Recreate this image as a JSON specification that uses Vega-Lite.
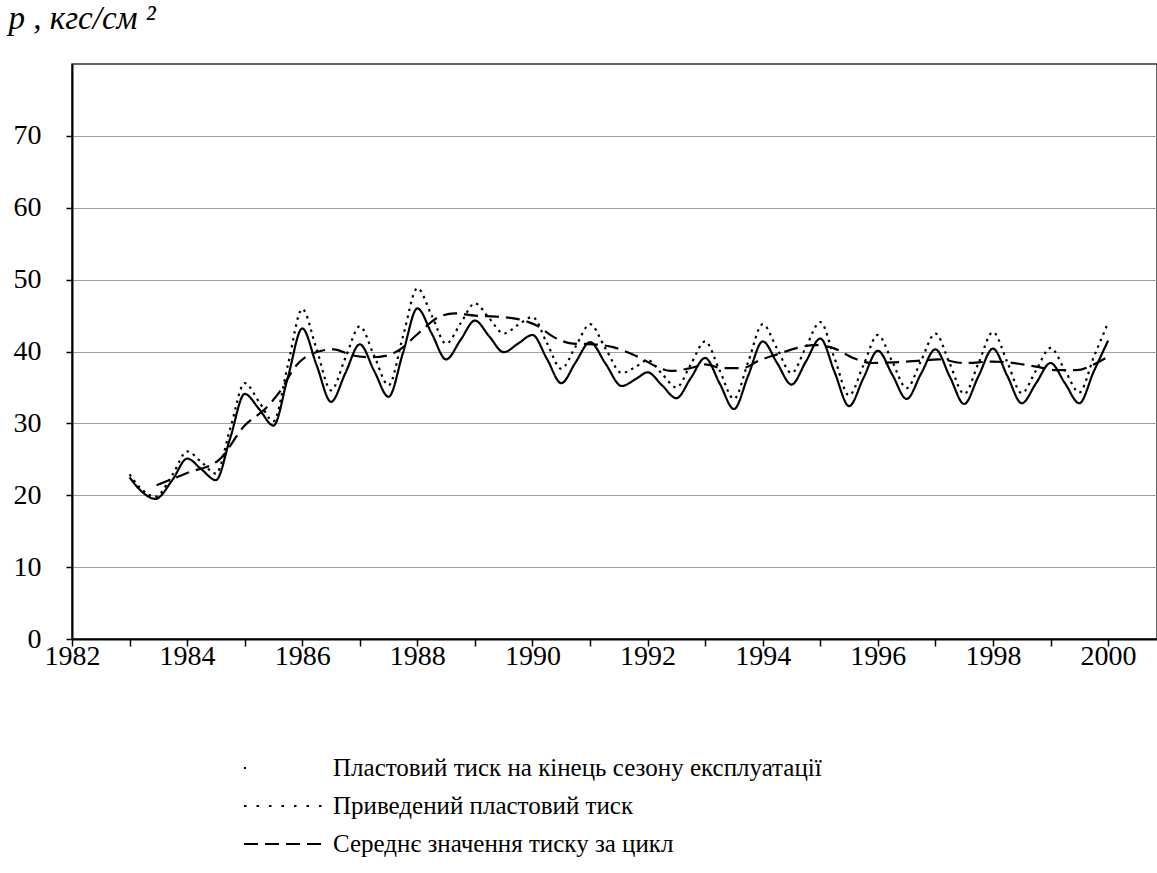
{
  "$schema": "https://vega.github.io/schema/vega-lite/v6.json",
  "width": 1085,
  "height": 575,
  "autosize": "none",
  "padding": {"left": 72, "top": 64, "right": 0, "bottom": 234},
  "background": "white",
  "config": {
    "font": "Liberation Serif",
    "view": {"stroke": "#333", "strokeWidth": 1.5}
  },
  "data": {"values": [
    {"x":1983.0,"p":22.5,"s":"Пластовий тиск на кінець сезону експлуатації"},
    {"x":1983.2,"p":20.6,"s":"Пластовий тиск на кінець сезону експлуатації"},
    {"x":1983.45,"p":19.5,"s":"Пластовий тиск на кінець сезону експлуатації"},
    {"x":1983.75,"p":22.2,"s":"Пластовий тиск на кінець сезону експлуатації"},
    {"x":1984.0,"p":25.1,"s":"Пластовий тиск на кінець сезону експлуатації"},
    {"x":1984.25,"p":23.6,"s":"Пластовий тиск на кінець сезону експлуатації"},
    {"x":1984.5,"p":22.1,"s":"Пластовий тиск на кінець сезону експлуатації"},
    {"x":1984.75,"p":28.0,"s":"Пластовий тиск на кінець сезону експлуатації"},
    {"x":1985.0,"p":34.1,"s":"Пластовий тиск на кінець сезону експлуатації"},
    {"x":1985.25,"p":32.0,"s":"Пластовий тиск на кінець сезону експлуатації"},
    {"x":1985.5,"p":29.7,"s":"Пластовий тиск на кінець сезону експлуатації"},
    {"x":1985.75,"p":36.4,"s":"Пластовий тиск на кінець сезону експлуатації"},
    {"x":1986.0,"p":43.2,"s":"Пластовий тиск на кінець сезону експлуатації"},
    {"x":1986.25,"p":38.1,"s":"Пластовий тиск на кінець сезону експлуатації"},
    {"x":1986.5,"p":33.0,"s":"Пластовий тиск на кінець сезону експлуатації"},
    {"x":1986.75,"p":37.0,"s":"Пластовий тиск на кінець сезону експлуатації"},
    {"x":1987.0,"p":41.0,"s":"Пластовий тиск на кінець сезону експлуатації"},
    {"x":1987.25,"p":37.3,"s":"Пластовий тиск на кінець сезону експлуатації"},
    {"x":1987.5,"p":33.7,"s":"Пластовий тиск на кінець сезону експлуатації"},
    {"x":1987.75,"p":39.8,"s":"Пластовий тиск на кінець сезону експлуатації"},
    {"x":1988.0,"p":46.0,"s":"Пластовий тиск на кінець сезону експлуатації"},
    {"x":1988.25,"p":42.5,"s":"Пластовий тиск на кінець сезону експлуатації"},
    {"x":1988.5,"p":38.9,"s":"Пластовий тиск на кінець сезону експлуатації"},
    {"x":1988.75,"p":41.6,"s":"Пластовий тиск на кінець сезону експлуатації"},
    {"x":1989.0,"p":44.3,"s":"Пластовий тиск на кінець сезону експлуатації"},
    {"x":1989.25,"p":42.1,"s":"Пластовий тиск на кінець сезону експлуатації"},
    {"x":1989.5,"p":39.9,"s":"Пластовий тиск на кінець сезону експлуатації"},
    {"x":1989.75,"p":41.1,"s":"Пластовий тиск на кінець сезону експлуатації"},
    {"x":1990.0,"p":42.3,"s":"Пластовий тиск на кінець сезону експлуатації"},
    {"x":1990.25,"p":39.0,"s":"Пластовий тиск на кінець сезону експлуатації"},
    {"x":1990.5,"p":35.6,"s":"Пластовий тиск на кінець сезону експлуатації"},
    {"x":1990.75,"p":38.5,"s":"Пластовий тиск на кінець сезону експлуатації"},
    {"x":1991.0,"p":41.3,"s":"Пластовий тиск на кінець сезону експлуатації"},
    {"x":1991.27,"p":38.3,"s":"Пластовий тиск на кінець сезону експлуатації"},
    {"x":1991.55,"p":35.2,"s":"Пластовий тиск на кінець сезону експлуатації"},
    {"x":1991.8,"p":36.2,"s":"Пластовий тиск на кінець сезону експлуатації"},
    {"x":1992.0,"p":37.1,"s":"Пластовий тиск на кінець сезону експлуатації"},
    {"x":1992.25,"p":35.3,"s":"Пластовий тиск на кінець сезону експлуатації"},
    {"x":1992.5,"p":33.5,"s":"Пластовий тиск на кінець сезону експлуатації"},
    {"x":1992.75,"p":36.3,"s":"Пластовий тиск на кінець сезону експлуатації"},
    {"x":1993.0,"p":39.1,"s":"Пластовий тиск на кінець сезону експлуатації"},
    {"x":1993.25,"p":35.6,"s":"Пластовий тиск на кінець сезону експлуатації"},
    {"x":1993.5,"p":32.0,"s":"Пластовий тиск на кінець сезону експлуатації"},
    {"x":1993.75,"p":36.7,"s":"Пластовий тиск на кінець сезону експлуатації"},
    {"x":1994.0,"p":41.4,"s":"Пластовий тиск на кінець сезону експлуатації"},
    {"x":1994.25,"p":38.4,"s":"Пластовий тиск на кінець сезону експлуатації"},
    {"x":1994.5,"p":35.4,"s":"Пластовий тиск на кінець сезону експлуатації"},
    {"x":1994.75,"p":38.6,"s":"Пластовий тиск на кінець сезону експлуатації"},
    {"x":1995.0,"p":41.8,"s":"Пластовий тиск на кінець сезону експлуатації"},
    {"x":1995.25,"p":37.1,"s":"Пластовий тиск на кінець сезону експлуатації"},
    {"x":1995.5,"p":32.4,"s":"Пластовий тиск на кінець сезону експлуатації"},
    {"x":1995.75,"p":36.3,"s":"Пластовий тиск на кінець сезону експлуатації"},
    {"x":1996.0,"p":40.1,"s":"Пластовий тиск на кінець сезону експлуатації"},
    {"x":1996.25,"p":36.8,"s":"Пластовий тиск на кінець сезону експлуатації"},
    {"x":1996.5,"p":33.4,"s":"Пластовий тиск на кінець сезону експлуатації"},
    {"x":1996.75,"p":36.9,"s":"Пластовий тиск на кінець сезону експлуатації"},
    {"x":1997.0,"p":40.3,"s":"Пластовий тиск на кінець сезону експлуатації"},
    {"x":1997.25,"p":36.5,"s":"Пластовий тиск на кінець сезону експлуатації"},
    {"x":1997.5,"p":32.7,"s":"Пластовий тиск на кінець сезону експлуатації"},
    {"x":1997.75,"p":36.6,"s":"Пластовий тиск на кінець сезону експлуатації"},
    {"x":1998.0,"p":40.4,"s":"Пластовий тиск на кінець сезону експлуатації"},
    {"x":1998.25,"p":36.6,"s":"Пластовий тиск на кінець сезону експлуатації"},
    {"x":1998.5,"p":32.8,"s":"Пластовий тиск на кінець сезону експлуатації"},
    {"x":1998.75,"p":35.6,"s":"Пластовий тиск на кінець сезону експлуатації"},
    {"x":1999.0,"p":38.4,"s":"Пластовий тиск на кінець сезону експлуатації"},
    {"x":1999.25,"p":35.6,"s":"Пластовий тиск на кінець сезону експлуатації"},
    {"x":1999.5,"p":32.8,"s":"Пластовий тиск на кінець сезону експлуатації"},
    {"x":1999.75,"p":37.2,"s":"Пластовий тиск на кінець сезону експлуатації"},
    {"x":2000.0,"p":41.5,"s":"Пластовий тиск на кінець сезону експлуатації"},

    {"x":1983.0,"p":22.9,"s":"Приведений пластовий тиск"},
    {"x":1983.2,"p":20.9,"s":"Приведений пластовий тиск"},
    {"x":1983.45,"p":19.8,"s":"Приведений пластовий тиск"},
    {"x":1983.75,"p":22.9,"s":"Приведений пластовий тиск"},
    {"x":1984.0,"p":26.1,"s":"Приведений пластовий тиск"},
    {"x":1984.25,"p":24.6,"s":"Приведений пластовий тиск"},
    {"x":1984.5,"p":23.0,"s":"Приведений пластовий тиск"},
    {"x":1984.75,"p":29.3,"s":"Приведений пластовий тиск"},
    {"x":1985.0,"p":35.6,"s":"Приведений пластовий тиск"},
    {"x":1985.25,"p":33.0,"s":"Приведений пластовий тиск"},
    {"x":1985.5,"p":30.3,"s":"Приведений пластовий тиск"},
    {"x":1985.75,"p":38.1,"s":"Приведений пластовий тиск"},
    {"x":1986.0,"p":45.9,"s":"Приведений пластовий тиск"},
    {"x":1986.25,"p":40.3,"s":"Приведений пластовий тиск"},
    {"x":1986.5,"p":34.6,"s":"Приведений пластовий тиск"},
    {"x":1986.75,"p":39.1,"s":"Приведений пластовий тиск"},
    {"x":1987.0,"p":43.5,"s":"Приведений пластовий тиск"},
    {"x":1987.25,"p":39.4,"s":"Приведений пластовий тиск"},
    {"x":1987.5,"p":35.3,"s":"Приведений пластовий тиск"},
    {"x":1987.75,"p":42.1,"s":"Приведений пластовий тиск"},
    {"x":1988.0,"p":48.8,"s":"Приведений пластовий тиск"},
    {"x":1988.25,"p":45.0,"s":"Приведений пластовий тиск"},
    {"x":1988.5,"p":41.1,"s":"Приведений пластовий тиск"},
    {"x":1988.75,"p":43.9,"s":"Приведений пластовий тиск"},
    {"x":1989.0,"p":46.7,"s":"Приведений пластовий тиск"},
    {"x":1989.25,"p":44.6,"s":"Приведений пластовий тиск"},
    {"x":1989.5,"p":42.5,"s":"Приведений пластовий тиск"},
    {"x":1989.75,"p":43.7,"s":"Приведений пластовий тиск"},
    {"x":1990.0,"p":44.8,"s":"Приведений пластовий тиск"},
    {"x":1990.25,"p":41.2,"s":"Приведений пластовий тиск"},
    {"x":1990.5,"p":37.6,"s":"Приведений пластовий тиск"},
    {"x":1990.75,"p":40.7,"s":"Приведений пластовий тиск"},
    {"x":1991.0,"p":43.8,"s":"Приведений пластовий тиск"},
    {"x":1991.27,"p":40.4,"s":"Приведений пластовий тиск"},
    {"x":1991.55,"p":37.0,"s":"Приведений пластовий тиск"},
    {"x":1991.8,"p":37.9,"s":"Приведений пластовий тиск"},
    {"x":1992.0,"p":38.8,"s":"Приведений пластовий тиск"},
    {"x":1992.25,"p":36.9,"s":"Приведений пластовий тиск"},
    {"x":1992.5,"p":35.0,"s":"Приведений пластовий тиск"},
    {"x":1992.75,"p":38.2,"s":"Приведений пластовий тиск"},
    {"x":1993.0,"p":41.4,"s":"Приведений пластовий тиск"},
    {"x":1993.25,"p":37.4,"s":"Приведений пластовий тиск"},
    {"x":1993.5,"p":33.4,"s":"Приведений пластовий тиск"},
    {"x":1993.75,"p":38.6,"s":"Приведений пластовий тиск"},
    {"x":1994.0,"p":43.8,"s":"Приведений пластовий тиск"},
    {"x":1994.25,"p":40.4,"s":"Приведений пластовий тиск"},
    {"x":1994.5,"p":37.0,"s":"Приведений пластовий тиск"},
    {"x":1994.75,"p":40.6,"s":"Приведений пластовий тиск"},
    {"x":1995.0,"p":44.1,"s":"Приведений пластовий тиск"},
    {"x":1995.25,"p":39.0,"s":"Приведений пластовий тиск"},
    {"x":1995.5,"p":33.9,"s":"Приведений пластовий тиск"},
    {"x":1995.75,"p":38.1,"s":"Приведений пластовий тиск"},
    {"x":1996.0,"p":42.3,"s":"Приведений пластовий тиск"},
    {"x":1996.25,"p":38.6,"s":"Приведений пластовий тиск"},
    {"x":1996.5,"p":34.9,"s":"Приведений пластовий тиск"},
    {"x":1996.75,"p":38.7,"s":"Приведений пластовий тиск"},
    {"x":1997.0,"p":42.5,"s":"Приведений пластовий тиск"},
    {"x":1997.25,"p":38.3,"s":"Приведений пластовий тиск"},
    {"x":1997.5,"p":34.1,"s":"Приведений пластовий тиск"},
    {"x":1997.75,"p":38.4,"s":"Приведений пластовий тиск"},
    {"x":1998.0,"p":42.7,"s":"Приведений пластовий тиск"},
    {"x":1998.25,"p":38.5,"s":"Приведений пластовий тиск"},
    {"x":1998.5,"p":34.2,"s":"Приведений пластовий тиск"},
    {"x":1998.75,"p":37.4,"s":"Приведений пластовий тиск"},
    {"x":1999.0,"p":40.5,"s":"Приведений пластовий тиск"},
    {"x":1999.25,"p":37.4,"s":"Приведений пластовий тиск"},
    {"x":1999.5,"p":34.3,"s":"Приведений пластовий тиск"},
    {"x":1999.75,"p":39.2,"s":"Приведений пластовий тиск"},
    {"x":2000.0,"p":44.0,"s":"Приведений пластовий тиск"},

    {"x":1983.47,"p":21.4,"s":"Середнє значення тиску за цикл"},
    {"x":1984.0,"p":23.1,"s":"Середнє значення тиску за цикл"},
    {"x":1984.55,"p":24.9,"s":"Середнє значення тиску за цикл"},
    {"x":1985.0,"p":29.7,"s":"Середнє значення тиску за цикл"},
    {"x":1985.38,"p":32.2,"s":"Середнє значення тиску за цикл"},
    {"x":1985.6,"p":34.3,"s":"Середнє значення тиску за цикл"},
    {"x":1985.9,"p":38.1,"s":"Середнє значення тиску за цикл"},
    {"x":1986.2,"p":39.8,"s":"Середнє значення тиску за цикл"},
    {"x":1986.55,"p":40.3,"s":"Середнє значення тиску за цикл"},
    {"x":1986.85,"p":39.5,"s":"Середнє значення тиску за цикл"},
    {"x":1987.2,"p":39.2,"s":"Середнє значення тиску за цикл"},
    {"x":1987.45,"p":39.4,"s":"Середнє значення тиску за цикл"},
    {"x":1987.7,"p":40.3,"s":"Середнє значення тиску за цикл"},
    {"x":1988.0,"p":42.4,"s":"Середнє значення тиску за цикл"},
    {"x":1988.4,"p":44.9,"s":"Середнє значення тиску за цикл"},
    {"x":1988.65,"p":45.3,"s":"Середнє значення тиску за цикл"},
    {"x":1989.0,"p":45.0,"s":"Середнє значення тиску за цикл"},
    {"x":1989.45,"p":44.8,"s":"Середнє значення тиску за цикл"},
    {"x":1989.75,"p":44.5,"s":"Середнє значення тиску за цикл"},
    {"x":1990.1,"p":43.5,"s":"Середнє значення тиску за цикл"},
    {"x":1990.35,"p":42.1,"s":"Середнє значення тиску за цикл"},
    {"x":1990.7,"p":41.1,"s":"Середнє значення тиску за цикл"},
    {"x":1991.05,"p":41.0,"s":"Середнє значення тиску за цикл"},
    {"x":1991.4,"p":40.6,"s":"Середнє значення тиску за цикл"},
    {"x":1991.65,"p":39.9,"s":"Середнє значення тиску за цикл"},
    {"x":1991.9,"p":39.0,"s":"Середнє значення тиску за цикл"},
    {"x":1992.15,"p":37.9,"s":"Середнє значення тиску за цикл"},
    {"x":1992.4,"p":37.3,"s":"Середнє значення тиску за цикл"},
    {"x":1992.75,"p":37.7,"s":"Середнє значення тиску за цикл"},
    {"x":1993.0,"p":38.2,"s":"Середнє значення тиску за цикл"},
    {"x":1993.3,"p":37.7,"s":"Середнє значення тиску за цикл"},
    {"x":1993.65,"p":37.7,"s":"Середнє значення тиску за цикл"},
    {"x":1993.95,"p":38.8,"s":"Середнє значення тиску за цикл"},
    {"x":1994.25,"p":39.6,"s":"Середнє значення тиску за цикл"},
    {"x":1994.6,"p":40.5,"s":"Середнє значення тиску за цикл"},
    {"x":1994.9,"p":40.9,"s":"Середнє значення тиску за цикл"},
    {"x":1995.25,"p":40.4,"s":"Середнє значення тиску за цикл"},
    {"x":1995.57,"p":39.1,"s":"Середнє значення тиску за цикл"},
    {"x":1995.9,"p":38.4,"s":"Середнє значення тиску за цикл"},
    {"x":1996.3,"p":38.5,"s":"Середнє значення тиску за цикл"},
    {"x":1996.7,"p":38.7,"s":"Середнє значення тиску за цикл"},
    {"x":1997.05,"p":38.9,"s":"Середнє значення тиску за цикл"},
    {"x":1997.5,"p":38.4,"s":"Середнє значення тиску за цикл"},
    {"x":1998.0,"p":38.6,"s":"Середнє значення тиску за цикл"},
    {"x":1998.45,"p":38.3,"s":"Середнє значення тиску за цикл"},
    {"x":1998.75,"p":37.9,"s":"Середнє значення тиску за цикл"},
    {"x":1999.1,"p":37.4,"s":"Середнє значення тиску за цикл"},
    {"x":1999.45,"p":37.4,"s":"Середнє значення тиску за цикл"},
    {"x":1999.75,"p":38.2,"s":"Середнє значення тиску за цикл"},
    {"x":2000.0,"p":39.3,"s":"Середнє значення тиску за цикл"}
  ]},
  "encoding": {
    "x": {
      "field": "x", "type": "quantitative",
      "scale": {"domain": [1982, 2000.85], "nice": false, "zero": false},
      "axis": {
        "title": null,
        "values": [1982,1983,1984,1985,1986,1987,1988,1989,1990,1991,1992,1993,1994,1995,1996,1997,1998,1999,2000],
        "labelExpr": "datum.value % 2 == 0 ? datum.value : ''",
        "grid": false,
        "domainColor": "black", "domainWidth": 2,
        "tickColor": "black", "tickWidth": 1.5, "tickSize": 7,
        "labelFont": "Liberation Serif", "labelFontSize": 28, "labelColor": "black",
        "labelPadding": -4, "labelFlush": false, "labelOverlap": false
      }
    },
    "y": {
      "field": "p", "type": "quantitative",
      "scale": {"domain": [0, 80], "nice": false},
      "axis": {
        "values": [0,10,20,30,40,50,60,70],
        "grid": true, "gridColor": "#a0a0a0", "gridWidth": 1,
        "domainColor": "black", "domainWidth": 2,
        "tickColor": "black", "tickWidth": 1.5, "tickSize": 6,
        "labelFont": "Liberation Serif", "labelFontSize": 28, "labelColor": "black",
        "labelPadding": 25,
        "title": "p , кгс/см ²",
        "titleFont": "Liberation Serif", "titleFontStyle": "italic", "titleFontWeight": "normal",
        "titleFontSize": 33, "titleColor": "black",
        "titleAngle": 0, "titleAlign": "left", "titleBaseline": "middle",
        "titleX": -64, "titleY": -46
      }
    }
  },
  "layer": [
    {
      "mark": {"type": "line", "interpolate": "monotone", "color": "black", "strokeWidth": 2.2},
      "encoding": {
        "strokeDash": {
          "field": "s", "type": "nominal",
          "scale": {
            "domain": ["Пластовий тиск на кінець сезону експлуатації", "Приведений пластовий тиск", "Середнє значення тиску за цикл"],
            "range": [[1, 0], [2.5, 4.5], [14, 7]]
          },
          "legend": null
        }
      }
    },
    {
      "mark": {"type": "line", "interpolate": "monotone", "color": "black", "strokeWidth": 2, "opacity": 0},
      "encoding": {
        "strokeDash": {
          "field": "s", "type": "nominal",
          "scale": {
            "domain": ["Пластовий тиск на кінець сезону експлуатації", "Приведений пластовий тиск", "Середнє значення тиску за цикл"],
            "range": [[2, 300], [2.5, 10], [14, 7]]
          },
          "legend": {
            "title": null,
            "orient": "none",
            "legendX": 191,
            "legendY": 683,
            "direction": "vertical",
            "symbolType": "M-2,0H2",
            "symbolSize": 1600,
            "symbolStrokeWidth": 2,
            "symbolStrokeColor": "black",
            "symbolFillColor": "transparent",
            "symbolOpacity": 1,
            "labelFont": "Liberation Serif",
            "labelFontSize": 25,
            "labelColor": "black",
            "labelOffset": 28,
            "labelLimit": 0,
            "rowPadding": 4
          }
        }
      }
    }
  ],
  "resolve": {"scale": {"strokeDash": "independent"}}
}
